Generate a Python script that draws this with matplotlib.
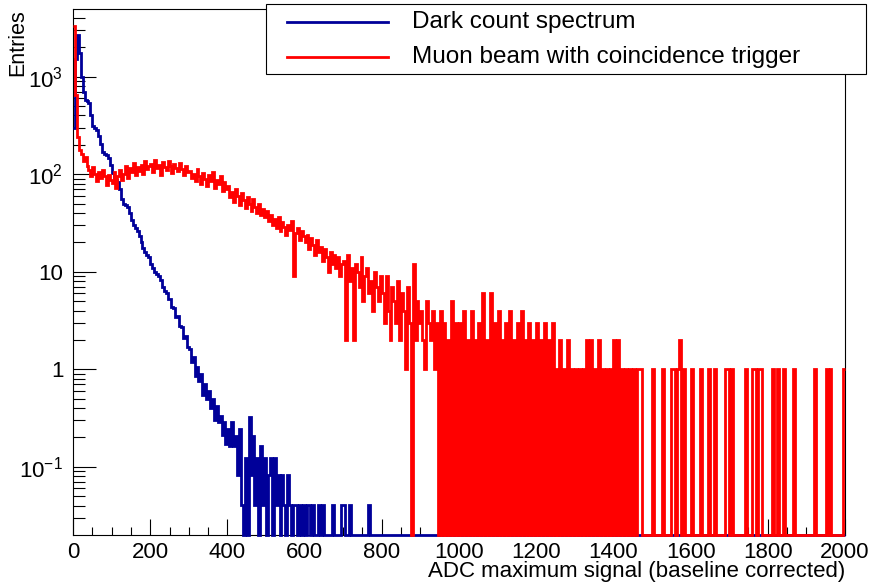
import numpy as np
import matplotlib
matplotlib.use("Agg")
import matplotlib.pyplot as plt
from matplotlib.ticker import FixedLocator, FixedFormatter, MultipleLocator, NullFormatter
from matplotlib.lines import Line2D
from matplotlib.patches import Rectangle

# ---------------- data (5-ADC bins, 0..2000) ----------------
bin_width = 5
x_min, x_max = 0, 2000

# Dark count spectrum (entries), bins 0-79 (ADC 0-400)
blue_main = [300, 1500, 2650, 1750, 1000, 700, 570, 560, 540, 400,
             310, 295, 285, 245, 205, 170, 162, 156, 148, 125,
             104, 92, 88, 84, 70, 56, 50, 48, 46, 40,
             34, 30, 28, 26, 23, 20, 17.5, 16, 15, 14,
             12, 11, 10, 9.5, 9, 8.3, 7, 6.3, 6, 5.3,
             5.2, 4.3, 4.2, 3.4, 3.5, 2.8, 2.7, 2.1, 2.2, 1.7,
             1.6, 1.2, 1.35, 0.85, 1.05, 0.75, 0.9, 0.55, 0.7, 0.5,
             0.6, 0.4, 0.5, 0.3, 0.42, 0.29, 0.33, 0.21, 0.29, 0.17]
# Dark count tail in raw counts (bins 80-159, ADC 400-800), one count = blue_unit entries
blue_unit = 0.041
blue_tail_counts = [6, 4, 7, 4, 5, 2, 6, 1, 0, 3,
                    0, 8, 2, 5, 1, 3, 0, 4, 1, 3,
                    0, 2, 3, 0, 3, 1, 2, 0, 2, 1,
                    0, 2, 1, 0, 1, 1, 0, 1, 0, 1,
                    0, 1, 1, 0, 1, 0, 0, 1, 0, 1,
                    0, 0, 0, 0, 1, 0, 0, 0, 0, 1,
                    1, 0, 0, 1, 0, 0, 0, 0, 0, 0,
                    0, 0, 0, 1, 0, 0, 0, 0, 0, 0]

# Muon beam with coincidence trigger (counts)
red_0_500 = [3300, 650, 240, 175, 160, 135, 150, 120, 110, 95, 118, 100, 85, 105, 92, 110, 95, 78, 98, 88,
             82, 105, 72, 95, 110, 88, 100, 120, 92, 115, 105, 130, 98, 118, 108, 125, 100, 135, 112, 122,
             128, 105, 140, 115, 125, 98, 132, 118, 110, 138, 120, 102, 126, 115, 108, 130, 112, 98, 120, 106,
             108, 92, 100, 85, 112, 95, 80, 102, 90, 76, 98, 85, 105, 72, 88, 80, 95, 68, 84, 70,
             75, 58, 66, 52, 70, 60, 48, 64, 55, 45, 58, 50, 42, 56, 46, 40, 50, 38, 44, 36]
red_500_1000 = [42, 33, 38, 30, 35, 28, 36, 26, 32, 29, 24, 30, 27, 33, 9, 25, 28, 21, 26, 23,
                20, 24, 17, 22, 19, 15, 21, 16, 18, 13, 17, 14, 10, 16, 12, 15, 11, 14, 9, 12,
                13, 2, 15, 8, 11, 2, 12, 10, 7, 14, 5, 9, 11, 6, 8, 4, 10, 7, 5, 9,
                6, 3, 9, 4, 2, 7, 5, 3, 8, 2, 6, 4, 1, 7, 3, 0, 12, 2, 5, 3,
                4, 2, 1, 5, 3, 2, 4, 1, 3, 0, 4, 0, 3, 0, 2, 0, 5, 0, 3, 0]
red_1000_1500 = [3, 0, 4, 0, 2, 0, 4, 0, 2, 0, 3, 0, 6, 0, 2, 0, 6, 0, 3, 0,
                 4, 0, 2, 0, 3, 0, 4, 0, 2, 0, 3, 0, 4, 0, 2, 0, 3, 0, 2, 0,
                 3, 0, 2, 0, 3, 0, 2, 0, 3, 0, 1, 0, 2, 0, 1, 0, 2, 0, 1, 0,
                 1, 0, 1, 0, 1, 0, 2, 0, 2, 0, 1, 0, 2, 0, 1, 0, 1, 0, 1, 0,
                 2, 0, 2, 0, 1, 0, 1, 0, 1, 0, 1, 0, 1, 1, 1, 0, 0, 0, 0, 0]
red_1500_2000 = [1, 0, 0, 0, 0, 1, 0, 0, 0, 0, 1, 1, 0, 1, 2, 0, 1, 0, 0, 0,
                 1, 0, 0, 0, 0, 1, 0, 0, 0, 1, 0, 0, 1, 0, 0, 0, 0, 0, 1, 1,
                 0, 1, 0, 0, 0, 0, 0, 0, 1, 0, 0, 0, 1, 1, 0, 1, 1, 0, 0, 0,
                 0, 0, 1, 0, 0, 1, 0, 0, 1, 0, 0, 0, 0, 1, 0, 0, 0, 0, 0, 0,
                 0, 0, 0, 0, 1, 0, 0, 0, 0, 0, 1, 0, 1, 0, 0, 0, 0, 0, 0, 1]

legend_labels = ["Dark count spectrum", "Muon beam with coincidence trigger"]
x_ticks = [0, 200, 400, 600, 800, 1000, 1200, 1400, 1600, 1800, 2000]
y_ticks = [0.1, 1, 10, 100, 1000]
y_ticklabels = [r"$\mathregular{10^{-1}}$", "1", "10", r"$\mathregular{10^{2}}$", r"$\mathregular{10^{3}}$"]
x_title = "ADC maximum signal (baseline corrected)"
y_title = "Entries"
y_lim = (0.02, 4940)

# ---------------- build histograms ----------------
edges = np.arange(x_min, x_max + bin_width, bin_width)
nb = len(edges) - 1
blue = np.zeros(nb)
blue[:len(blue_main)] = blue_main
blue[len(blue_main):len(blue_main) + len(blue_tail_counts)] = np.array(blue_tail_counts) * blue_unit
red = np.array(red_0_500 + red_500_1000 + red_1000_1500 + red_1500_2000, dtype=float)

# zero bins are drawn on the bottom of the frame (ROOT style)
blue_draw = np.where(blue > 0, blue, y_lim[0])
red_draw = np.where(red > 0, red, y_lim[0])

# ---------------- figure ----------------
plt.rcParams["font.family"] = ["Liberation Sans", "DejaVu Sans"]
plt.rcParams["mathtext.fontset"] = "custom"
plt.rcParams["mathtext.rm"] = "Liberation Sans"
plt.rcParams["mathtext.it"] = "Liberation Sans:italic"
plt.rcParams["mathtext.bf"] = "Liberation Sans:bold"

W, H = 870, 586
fig = plt.figure(figsize=(W / 100, H / 100), dpi=100)
L, R, T, B = 73, 845, 9, 535
ax = fig.add_axes([L / W, 1 - B / H, (R - L) / W, (B - T) / H])

lw = 2.0
ax.stairs(blue_draw, edges, color="#000099", lw=lw, baseline=None, zorder=3, clip_on=False)
ax.stairs(red_draw, edges, color="#ff0000", lw=lw, baseline=None, zorder=4, clip_on=False)

ax.set_yscale("log")
ax.set_xlim(x_min, x_max)
ax.set_ylim(*y_lim)

ax.xaxis.set_major_locator(FixedLocator(x_ticks))
ax.xaxis.set_minor_locator(MultipleLocator(50))
ax.yaxis.set_major_locator(FixedLocator(y_ticks))
ax.yaxis.set_major_formatter(FixedFormatter(y_ticklabels))
minors = [k * 10.0 ** e for e in range(-2, 4) for k in range(2, 10)]
minors = [m for m in minors if y_lim[0] < m < y_lim[1]]
ax.yaxis.set_minor_locator(FixedLocator(minors))
ax.yaxis.set_minor_formatter(NullFormatter())

ax.tick_params(axis="x", which="major", direction="in", length=11.5, width=0.8, labelsize=16, pad=5,
               top=False, bottom=True)
ax.tick_params(axis="x", which="minor", direction="in", length=5.8, width=0.8, top=False, bottom=True)
ax.tick_params(axis="y", which="major", direction="in", length=16.5, width=0.8, labelsize=16, pad=7,
               left=True, right=False)
ax.tick_params(axis="y", which="minor", direction="in", length=8.3, width=0.8, left=True, right=False)
for s in ax.spines.values():
    s.set_linewidth(0.8)
    s.set_zorder(2.5)

fig.text(R / W, 1 - 572 / H, x_title, ha="right", va="center", fontsize=16)
fig.text(18 / W, 1 - 9 / H, y_title, ha="center", va="top", rotation=90, fontsize=15.5)

# ---------------- legend (ROOT TLegend) ----------------
def fx(px):
    return px / W

def fy(py):
    return 1 - py / H

lx0, lx1, ly0, ly1 = 266, 866, 4, 74
fig.patches.append(Rectangle((fx(lx0), fy(ly1)), fx(lx1) - fx(lx0), fy(ly0) - fy(ly1),
                             transform=fig.transFigure, facecolor="white", edgecolor="black",
                             lw=0.8, zorder=10))
for label, color, yy in [(legend_labels[0], "#000099", 22), (legend_labels[1], "#ff0000", 57)]:
    fig.lines.append(Line2D([fx(287), fx(388)], [fy(yy), fy(yy)], transform=fig.transFigure,
                            color=color, lw=lw, zorder=11))
    fig.text(fx(412), fy(yy), label, ha="left", va="center", fontsize=17.5, zorder=12)

fig.savefig("out.png", dpi=100)
